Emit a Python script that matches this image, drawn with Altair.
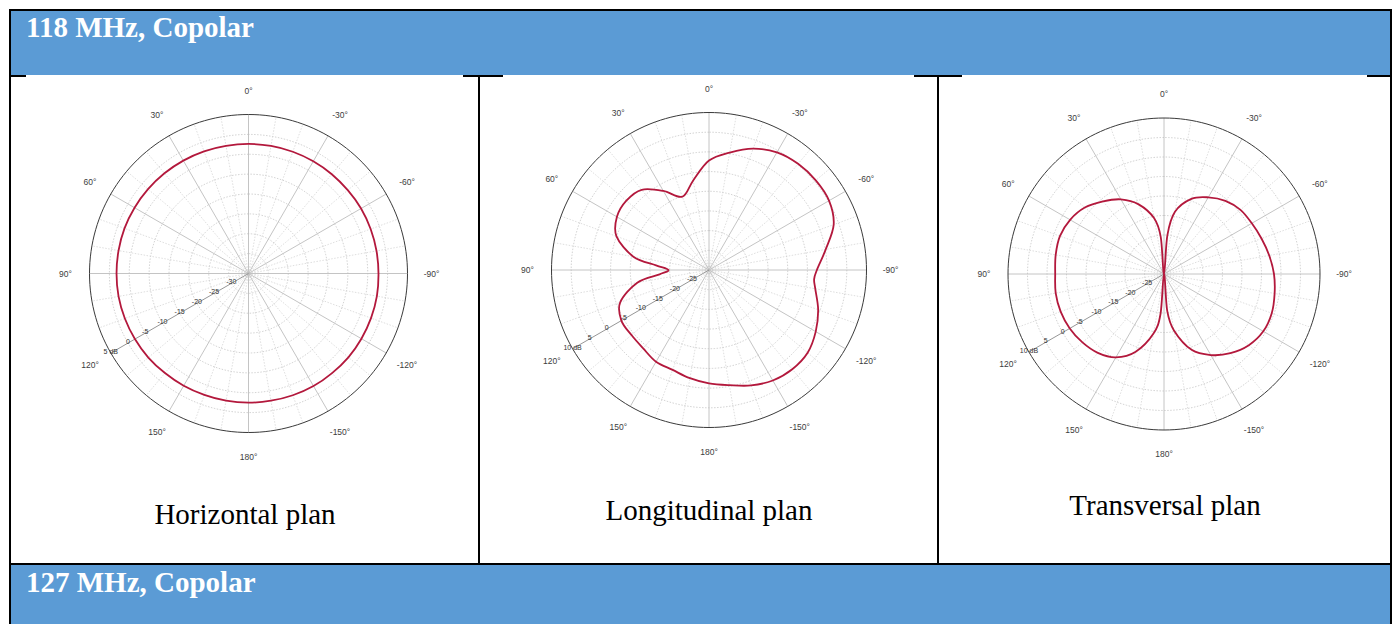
import math
import altair as alt
import pandas as pd
import numpy as np

# ---------------- data ----------------
HEADERS = ["118 MHz, Copolar", "127 MHz, Copolar"]
CAPTIONS = ["Horizontal plan", "Longitudinal plan", "Transversal plan"]

ANGLE_TICKS = [0, 30, 60, 90, 120, 150, 180, -150, -120, -90, -60, -30]
ANGLE_TICK_LABELS = ["0°", "30°", "60°", "90°", "120°", "150°", "180°",
                     "-150°", "-120°", "-90°", "-60°", "-30°"]

# Horizontal plan (dB scale -35 .. 5)
H_RING_VALUES = [5, 0, -5, -10, -15, -20, -25, -30]
H_RING_LABELS = ["5 dB", "0", "-5", "-10", "-15", "-20", "-25", "-30"]
H_ANGLES = [0, 10, 20, 30, 40, 50, 60, 70, 80, 90, 100, 110, 120, 130, 140, 150,
            160, 170, 180, -170, -160, -150, -140, -130, -120, -110, -100, -90,
            -80, -70, -60, -50, -40, -30, -20, -10]
H_GAIN = [-2.4, -2.4, -2.3, -2.2, -2.1, -2.0, -1.9, -1.8, -1.8, -1.8, -1.8, -1.9,
          -2.0, -2.1, -2.3, -2.4, -2.5, -2.5, -2.5, -2.5, -2.4, -2.3, -2.3, -2.2,
          -2.2, -2.2, -2.2, -2.3, -2.3, -2.3, -2.3, -2.4, -2.4, -2.4, -2.4, -2.4]

# Longitudinal plan (dB scale -30 .. 10)
L_RING_VALUES = [10, 5, 0, -5, -10, -15, -20, -25]
L_RING_LABELS = ["10 dB", "5", "0", "-5", "-10", "-15", "-20", "-25"]
L_ANGLES = [0, 10, 20, 30, 40, 50, 60, 70, 80, 85, 90, 95, 100, 110, 120, 130,
            140, 150, 160, 170, 180, -170, -160, -150, -140, -130, -120, -110,
            -100, -95, -90, -80, -70, -60, -50, -40, -30, -20, -10]
L_GAIN = [-2.2, -6.9, -10.2, -6.8, -3.4, -2.6, -3.0, -5.0, -10.5, -16.5, -19.7,
          -17.4, -11.5, -6.0, -4.3, -4.3, -4.0, -3.1, -3.0, -2.1, -1.2, -0.3, 1.2,
          2.4, 2.9, 2.7, 1.3, -0.5, -2.6, -3.2, -2.6, 0.1, 3.7, 5.2, 5.4, 5.2, 4.5,
          2.8, 0.3]

# Transversal plan (dB scale -30 .. 10)
T_RING_VALUES = [10, 5, 0, -5, -10, -15, -20, -25]
T_RING_LABELS = ["10 dB", "5", "0", "-5", "-10", "-15", "-20", "-25"]
T_ANGLES = [0, 5, 10, 20, 30, 40, 50, 60, 70, 80, 90, 100, 110, 120, 130, 140,
            150, 160, 170, 175, 180, -175, -170, -160, -150, -140, -130, -120,
            -110, -100, -90, -80, -70, -60, -50, -40, -30, -20, -10, -5]
T_GAIN = [-30, -20.5, -15.5, -11.0, -7.9, -5.7, -3.5, -2.2, -1.6, -1.8, -2.1,
          -1.8, -1.8, -2.1, -2.7, -3.6, -5.3, -8.8, -14.5, -19.7, -30, -20.5,
          -15.3, -9.3, -6.0, -3.5, -1.6, -0.6, -0.6, -1.2, -1.8, -2.6, -3.4,
          -4.0, -4.4, -5.5, -7.3, -9.5, -13.8, -20.0]

# ---------------- layout / style ----------------
W, H = 1396, 624
BLUE = "#5B9BD5"
RED = "#B3183C"
SANS = "Liberation Sans"
SERIF = "Liberation Serif"

PANELS = [
    dict(cx=248.5, cy=273.5, R=159.0, db_min=-35, db_max=5,
         angles=H_ANGLES, gain=H_GAIN, rings=H_RING_VALUES, ring_labels=H_RING_LABELS,
         cap_x=245, cap_y=524),
    dict(cx=709.0, cy=270.0, R=157.5, db_min=-30, db_max=10,
         angles=L_ANGLES, gain=L_GAIN, rings=L_RING_VALUES, ring_labels=L_RING_LABELS,
         cap_x=709, cap_y=520),
    dict(cx=1164.0, cy=274.0, R=156.0, db_min=-30, db_max=10,
         angles=T_ANGLES, gain=T_GAIN, rings=T_RING_VALUES, ring_labels=T_RING_LABELS,
         cap_x=1165, cap_y=515),
]

AXIS_ANGLE = 120  # radial labels sit on this spoke


def polar_xy(r_expr, a_expr):
    return (f"-({r_expr})*sin(({a_expr})*PI/180)",
            f"({r_expr})*cos(({a_expr})*PI/180)")


def panel_chart(p):
    span = p["db_max"] - p["db_min"]
    R = p["R"]
    xs = alt.Scale(domain=[-span, span], range=[p["cx"] - R, p["cx"] + R], nice=False, zero=False)
    ys = alt.Scale(domain=[-span, span], range=[p["cy"] + R, p["cy"] - R], nice=False, zero=False)
    X = lambda f: alt.X(f, type="quantitative", scale=xs, axis=None)
    Y = lambda f: alt.Y(f, type="quantitative", scale=ys, axis=None)

    # rings: ring value x sweep angle
    ring_df = pd.DataFrame({"ring": p["rings"]}).merge(
        pd.DataFrame({"a": np.arange(0, 360, 2)}), how="cross")
    ring_df["i"] = ring_df["a"]
    rx, ry = polar_xy(f"datum.ring - ({p['db_min']})", "datum.a")
    ring_base = alt.Chart(ring_df).transform_calculate(px=rx, py=ry)
    inner_rings = ring_base.transform_filter(f"datum.ring < {p['db_max']}").mark_line(
        interpolate="linear-closed", color="#c8c8c8", strokeWidth=0.8, strokeDash=[1.5, 1.5]
    ).encode(x=X("px"), y=Y("py"), detail="ring:N", order="i:Q")
    outer_ring = ring_base.transform_filter(f"datum.ring == {p['db_max']}").mark_line(
        interpolate="linear-closed", color="#3a3a3a", strokeWidth=1.0
    ).encode(x=X("px"), y=Y("py"), detail="ring:N", order="i:Q")

    # spokes
    spoke_df = pd.DataFrame({"a": np.arange(0, 360, 10)})
    ex, ey = polar_xy(str(span), "datum.a")
    spoke_base = alt.Chart(spoke_df).transform_calculate(ex=ex, ey=ey, zx="0", zy="0")
    minor = spoke_base.transform_filter("datum.a % 30 != 0").mark_rule(
        color="#d0d0d0", strokeWidth=0.7, strokeDash=[1.5, 1.5]
    ).encode(x=X("zx"), y=Y("zy"), x2="ex:Q", y2="ey:Q")
    major = spoke_base.transform_filter(f"datum.a % 30 == 0 && datum.a != {AXIS_ANGLE}").mark_rule(
        color="#bdbdbd", strokeWidth=0.9
    ).encode(x=X("zx"), y=Y("zy"), x2="ex:Q", y2="ey:Q")
    axis_spoke = spoke_base.transform_filter(f"datum.a == {AXIS_ANGLE}").mark_rule(
        color="#8a8a8a", strokeWidth=0.9
    ).encode(x=X("zx"), y=Y("zy"), x2="ex:Q", y2="ey:Q")

    # angle labels
    lab_r = span * (R + 24) / R
    alab_df = pd.DataFrame({"a": ANGLE_TICKS, "t": ANGLE_TICK_LABELS})
    ax_, ay_ = polar_xy(str(lab_r), "datum.a")
    angle_labels = alt.Chart(alab_df).transform_calculate(px=ax_, py=ay_).mark_text(
        font=SANS, fontSize=8.5, color="#3c3c3c", align="center", baseline="middle"
    ).encode(x=X("px"), y=Y("py"), text="t:N")

    # radial labels
    rlab_df = pd.DataFrame({"v": p["rings"], "t": p["ring_labels"]})
    rx2, ry2 = polar_xy(f"datum.v - ({p['db_min']})", str(AXIS_ANGLE))
    radial_labels = alt.Chart(rlab_df).transform_calculate(px=rx2, py=ry2).mark_text(
        font=SANS, fontSize=7, color="#333333", align="center", baseline="middle", dy=-1
    ).encode(x=X("px"), y=Y("py"), text="t:N")

    # measured pattern
    cdf = pd.DataFrame({"angle": p["angles"], "gain": p["gain"], "i": range(len(p["angles"]))})
    cx_, cy_ = polar_xy(f"max(0, datum.gain - ({p['db_min']}))", "datum.angle")
    curve = alt.Chart(cdf).transform_calculate(px=cx_, py=cy_).mark_line(
        interpolate="cardinal-closed", color=RED, strokeWidth=1.8
    ).encode(x=X("px"), y=Y("py"), order="i:Q")

    return alt.layer(inner_rings, minor, major, axis_spoke, outer_ring,
                     radial_labels, angle_labels, curve)


one = pd.DataFrame({"k": [0]})

def vrect(x1, x2, y1, y2, color):
    return alt.Chart(one).mark_rect(color=color).encode(
        x=alt.value(x1), x2=alt.value(x2), y=alt.value(y1), y2=alt.value(y2))

table_layers = [
    vrect(11, 1390, 11, 75, BLUE),
    vrect(11, 1390, 565, H, BLUE),
    # borders
    vrect(9, 1392, 9, 11, "#000000"),
    vrect(9, 11, 9, H, "#000000"),
    vrect(1390, 1392, 9, H, "#000000"),
    vrect(9, 1392, 563, 565, "#000000"),
    vrect(478, 480, 75, 563, "#000000"),
    vrect(937, 939, 75, 563, "#000000"),
    # short segments under the header
    vrect(9, 26, 75, 77, "#000000"),
    vrect(463, 503, 75, 77, "#000000"),
    vrect(914, 962, 75, 77, "#000000"),
    vrect(1367, 1392, 75, 77, "#000000"),
]

header_layers = []
for txt, yb in zip(HEADERS, [37, 592]):
    header_layers.append(alt.Chart(one).mark_text(
        font=SERIF, fontSize=29, fontWeight="bold", color="white",
        align="left", baseline="alphabetic"
    ).encode(x=alt.value(26), y=alt.value(yb), text=alt.value(txt)))

caption_layers = []
for txt, p in zip(CAPTIONS, PANELS):
    caption_layers.append(alt.Chart(one).mark_text(
        font=SERIF, fontSize=29, color="#000000", align="center", baseline="alphabetic"
    ).encode(x=alt.value(p["cap_x"]), y=alt.value(p["cap_y"]), text=alt.value(txt)))

panels = [panel_chart(p) for p in PANELS]

chart = alt.layer(*table_layers, *panels, *header_layers, *caption_layers).resolve_scale(
    x="independent", y="independent"
).properties(
    width=W, height=H, padding=0, autosize="none", background="white"
).configure_view(stroke=None)

chart.save("out.html", embed_options={"renderer": "svg", "actions": False})
